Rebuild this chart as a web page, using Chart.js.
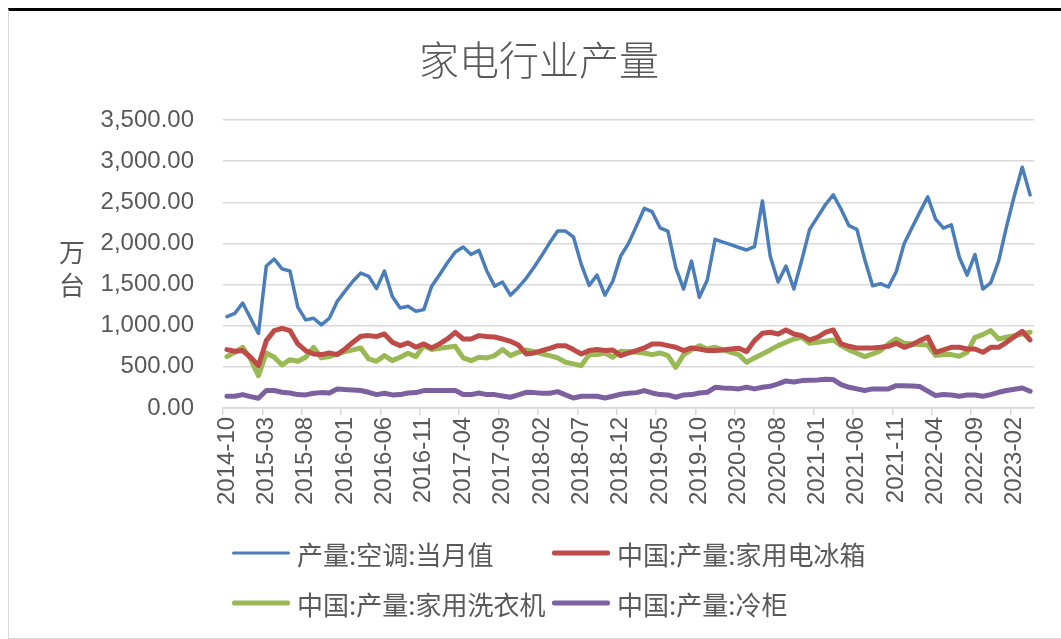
<!DOCTYPE html>
<html>
<head>
<meta charset="utf-8">
<script src="https://cdn.jsdelivr.net/npm/chart.js@4.4.1/dist/chart.umd.min.js"></script>
<style>
  body { margin: 0; background: #fff; }
  #frame {
    position: absolute; left: 8px; top: 8px; width: 1053px; height: 627px;
    border-top: 3px solid #000; border-left: 1px solid #d9d9d9; border-bottom: 1px solid #d9d9d9;
  }
  #wrap { position: absolute; left: 0; top: 0; width: 1061px; height: 639px; }
  .item {
    position: absolute; display: flex; align-items: center; transform: translateY(-50%);
    font: 26px "Noto Sans CJK SC", sans-serif; color: #595959; white-space: nowrap;
  }
  .swatch { width: 58px; margin-right: 7px; border-radius: 2px; }
</style>
</head>
<body>
<div id="frame"></div>
<div id="wrap"><canvas id="chart"></canvas></div>
<div id="legend"></div>
<script>
// categories: 2014-10 .. 2023-04
const months = [
  "2014-10", "2014-11", "2014-12",
  "2015-01", "2015-02", "2015-03", "2015-04", "2015-05", "2015-06", "2015-07", "2015-08", "2015-09", "2015-10", "2015-11", "2015-12",
  "2016-01", "2016-02", "2016-03", "2016-04", "2016-05", "2016-06", "2016-07", "2016-08", "2016-09", "2016-10", "2016-11", "2016-12",
  "2017-01", "2017-02", "2017-03", "2017-04", "2017-05", "2017-06", "2017-07", "2017-08", "2017-09", "2017-10", "2017-11", "2017-12",
  "2018-01", "2018-02", "2018-03", "2018-04", "2018-05", "2018-06", "2018-07", "2018-08", "2018-09", "2018-10", "2018-11", "2018-12",
  "2019-01", "2019-02", "2019-03", "2019-04", "2019-05", "2019-06", "2019-07", "2019-08", "2019-09", "2019-10", "2019-11", "2019-12",
  "2020-01", "2020-02", "2020-03", "2020-04", "2020-05", "2020-06", "2020-07", "2020-08", "2020-09", "2020-10", "2020-11", "2020-12",
  "2021-01", "2021-02", "2021-03", "2021-04", "2021-05", "2021-06", "2021-07", "2021-08", "2021-09", "2021-10", "2021-11", "2021-12",
  "2022-01", "2022-02", "2022-03", "2022-04", "2022-05", "2022-06", "2022-07", "2022-08", "2022-09", "2022-10", "2022-11", "2022-12",
  "2023-01", "2023-02", "2023-03", "2023-04",
];

const seriesNames = ["产量:空调:当月值", "中国:产量:家用电冰箱", "中国:产量:家用洗衣机", "中国:产量:冷柜"];

// 万台
const airCon = [
  1110, 1150, 1275, 1090, 905, 1725, 1810, 1690, 1665, 1225,
  1070, 1090, 1010, 1090, 1295, 1420, 1540, 1640, 1600, 1450,
  1665, 1355, 1215, 1235, 1175, 1195, 1480, 1620, 1765, 1895,
  1955, 1865, 1915, 1665, 1480, 1530, 1370, 1465, 1575, 1710,
  1855, 2010, 2150, 2150, 2080, 1745, 1490, 1615, 1370, 1540,
  1845, 2000, 2210, 2425, 2385, 2190, 2150, 1705, 1445, 1785,
  1345, 1555, 2050, 2015, 1985, 1950, 1920, 1960, 2515, 1845,
  1530, 1725, 1445, 1795, 2170, 2320, 2470, 2590, 2415, 2215,
  2170, 1805, 1485, 1510, 1470, 1655, 1995, 2190, 2380, 2565,
  2295, 2185, 2225, 1835, 1615, 1865, 1445, 1520, 1785, 2200,
  2580, 2925, 2590,
];
const fridge = [
  709, 689, 697, 616, 514, 818, 940, 968, 940, 778,
  697, 656, 648, 668, 648, 717, 798, 871, 879, 867,
  899, 798, 757, 790, 737, 778, 729, 778, 838, 919,
  838, 838, 879, 867, 862, 838, 810, 765, 656, 668,
  697, 725, 757, 757, 709, 656, 697, 709, 697, 705,
  636, 668, 697, 729, 778, 778, 757, 737, 697, 729,
  717, 697, 697, 705, 717, 725, 684, 818, 907, 919,
  899, 948, 899, 879, 826, 859, 919, 948, 778, 749,
  729, 729, 729, 737, 749, 786, 737, 770, 818, 862,
  676, 705, 737, 737, 717, 717, 676, 737, 737, 798,
  867, 932, 826,
];
const washer = [
  624, 676, 737, 595, 393, 668, 616, 522, 587, 567,
  616, 737, 608, 624, 656, 684, 705, 729, 595, 567,
  636, 575, 616, 664, 624, 757, 709, 725, 737, 749,
  608, 575, 616, 608, 636, 709, 636, 676, 705, 684,
  656, 636, 608, 555, 535, 514, 648, 648, 668, 616,
  689, 684, 676, 668, 648, 668, 636, 494, 648, 705,
  757, 717, 737, 709, 676, 648, 555, 608, 656, 705,
  757, 798, 838, 859, 786, 798, 810, 826, 757, 705,
  664, 624, 656, 697, 778, 838, 786, 778, 770, 765,
  636, 648, 648, 628, 676, 859, 891, 940, 838, 859,
  879, 899, 919,
];
const freezer = [
  142, 142, 162, 138, 117, 211, 211, 190, 182, 162,
  158, 178, 186, 182, 231, 223, 219, 211, 190, 162,
  178, 158, 162, 182, 186, 211, 211, 211, 211, 211,
  162, 162, 182, 162, 162, 146, 130, 158, 190, 186,
  178, 178, 198, 158, 121, 142, 142, 142, 121, 142,
  166, 178, 186, 211, 182, 162, 158, 130, 158, 162,
  182, 190, 251, 243, 239, 231, 251, 231, 252, 263,
  292, 328, 316, 332, 336, 340, 348, 345, 284, 251,
  231, 211, 231, 231, 231, 271, 271, 267, 259, 205,
  150, 162, 158, 142, 158, 158, 142, 162, 190, 211,
  227, 243, 203,
];

const yTicks = [0, 500, 1000, 1500, 2000, 2500, 3000, 3500];
const yUnit = "万台";

const colors = ["#4a7ebb", "#be4b48", "#98b954", "#7d60a0"];
const widths = [3.5, 5, 5, 5];
const CJK = '"Noto Sans CJK SC", sans-serif';
const NUM = '"Liberation Sans", Arial, sans-serif';

// y axis unit, written as stacked characters
const unitLabel = {
  id: "unitLabel",
  afterDraw(chart) {
    const { ctx, chartArea } = chart;
    ctx.save();
    ctx.font = "26px " + CJK;
    ctx.fillStyle = "#595959";
    ctx.textAlign = "center";
    ctx.textBaseline = "middle";
    [...yUnit].forEach((ch, i) => {
      ctx.fillText(ch, chartArea.left - 151, chartArea.top + 132 + i * 33);
    });
    ctx.restore();
  },
};

const allSeries = [airCon, fridge, washer, freezer];

const chart = new Chart(document.getElementById("chart"), {
  type: "line",
  data: {
    labels: months,
    datasets: allSeries.map((d, i) => ({
      label: seriesNames[i],
      data: d,
      borderColor: colors[i],
      backgroundColor: colors[i],
      borderWidth: widths[i],
      pointRadius: 0,
      tension: 0,
      borderJoinStyle: "round",
      borderCapStyle: "round",
    })),
  },
  options: {
    responsive: true,
    maintainAspectRatio: false,
    animation: false,
    layout: { padding: { left: 39, right: 22, top: 0, bottom: 132 } },
    plugins: {
      legend: { display: false },
      tooltip: { enabled: false },
      title: {
        display: true,
        text: "家电行业产量",
        color: "#595959",
        font: { family: CJK, size: 40, weight: 300 },
        padding: { top: 36, bottom: 36 },
      },
    },
    scales: {
      x: {
        offset: true,
        grid: {
          offset: true,
          drawOnChartArea: false,
          tickLength: 7,
          lineWidth: 1.5,
          color: (c) => (c.index % 5 === 0 ? "#d9d9d9" : "rgba(0,0,0,0)"),
        },
        border: { color: "#d9d9d9", width: 1.5 },
        ticks: {
          autoSkip: false,
          maxRotation: 90,
          minRotation: 90,
          padding: 2,
          color: "#595959",
          font: { family: NUM, size: 24 },
          callback: (v, i) => (i % 5 === 0 ? months[i] : ""),
        },
      },
      y: {
        min: yTicks[0],
        max: yTicks[yTicks.length - 1],
        afterBuildTicks: (s) => { s.ticks = yTicks.map((v) => ({ value: v })); },
        afterFit: (s) => { s.width = 184; },
        grid: { color: "#d9d9d9", lineWidth: 1.5, drawTicks: false },
        border: { display: false },
        ticks: {
          padding: 29,
          color: "#595959",
          font: { family: NUM, size: 24 },
          callback: (v) =>
            v.toLocaleString("en-US", { minimumFractionDigits: 2, maximumFractionDigits: 2 }),
        },
      },
    },
  },
  plugins: [unitLabel],
});

// legend, 2 x 2 grid
const legendPos = [[232, 553], [552, 553], [232, 603], [552, 603]];
const legend = document.getElementById("legend");
chart.data.datasets.forEach((ds, i) => {
  const item = document.createElement("div");
  item.className = "item";
  item.style.left = legendPos[i][0] + "px";
  item.style.top = legendPos[i][1] + "px";
  const sw = document.createElement("span");
  sw.className = "swatch";
  sw.style.background = ds.borderColor;
  sw.style.height = (i === 0 ? 3.5 : 5) + "px";
  item.appendChild(sw);
  item.appendChild(document.createTextNode(ds.label));
  legend.appendChild(item);
});
</script>
</body>
</html>
